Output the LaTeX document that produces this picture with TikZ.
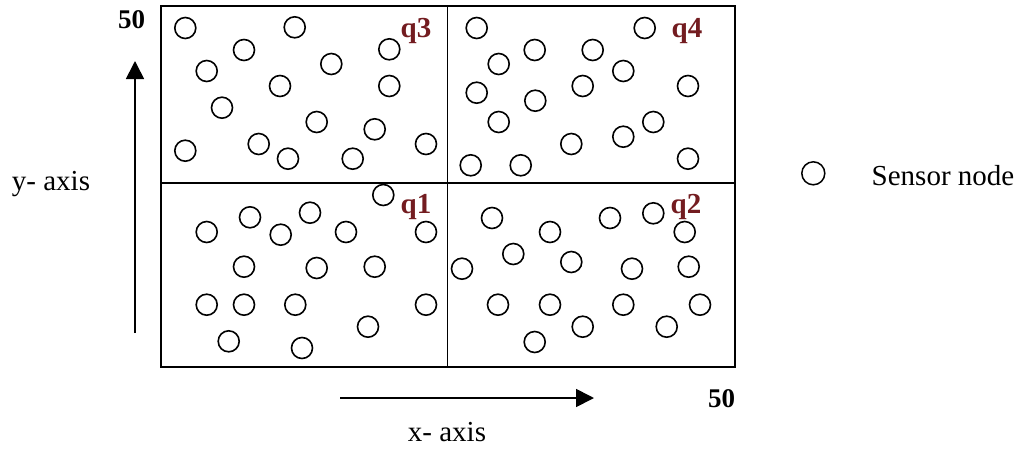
\documentclass[tikz,border=0pt]{standalone}
\usepackage{fontspec}
\setmainfont{Liberation Serif}
\usetikzlibrary{arrows.meta}
\definecolor{qred}{RGB}{115,28,32}
\tikzset{
  sensor/.style={circle, draw=black, line width=1.6pt, minimum size=21pt, inner sep=0pt},
  legendsensor/.style={circle, draw=black, line width=1.5pt, minimum size=23pt, inner sep=0pt},
  frame/.style={draw=black, line width=1.8pt},
  axisarrow/.style={draw=black, line width=1.7pt, -{Triangle[length=18pt,width=18pt]}},
  lbl/.style={inner sep=0pt, anchor=base, font=\fontsize{29}{32}\selectfont},
  boldlbl/.style={lbl, font=\fontsize{27}{30}\selectfont\bfseries},
  qlbl/.style={lbl, text=qred, font=\fontsize{29}{32}\selectfont\bfseries}
}
\begin{document}
\begin{tikzpicture}[x=1pt,y=-1pt]
\useasboundingbox (0,0) rectangle (1026,450);
\fill[white] (0,0) rectangle (1026,450);
% field
\draw[frame] (161,6) rectangle (735,367);
\draw[frame] (447.5,6) -- (447.5,367);
\draw[frame] (161,183) -- (735,183);
% sensors
\foreach \px/\py [count=\i] in {
 185.3/28, 294.7/27.3, 244/50, 389.3/49.3, 206.7/71, 331.3/64, 280/86, 389.3/86,
 222/107.7, 316.7/122, 374.7/129.3, 185.3/150.7, 258.7/144, 288/158.7, 352.7/158.7, 426/144,
 476.7/28, 644.7/28, 534.7/50, 592.7/50, 498.7/64, 623.3/71, 476.7/92.7, 582.7/86,
 688/86, 535.3/100.7, 498.7/122, 653.3/122, 571.3/144, 623.3/136.7, 470.7/165.3, 520.7/165.3, 688/158.7,
 383.3/195, 206.7/232, 250/217.3, 280.7/234.7, 310/212.7, 346/232, 426/232, 244/266.7,
 316.7/268, 374.7/266.7, 206.7/304.7, 244/304.7, 295.3/304.7, 426/304.7, 368/326.7, 228.7/341.3, 302/348,
 492/218, 550/232, 610/218, 653.3/213.3, 684.7/232, 513.3/254, 571.3/262, 462/268.7,
 632/268.7, 688.7/266.7, 498/304.7, 550/304.7, 623.3/304.7, 700/304.7, 582.7/326.7, 666.7/326.7, 534.7/342}
  \node[sensor] (s\i) at (\px,\py) {};
% quadrant labels
\node[qlbl] (q3) at (416,37) {q3};
\node[qlbl] (q4) at (687,37) {q4};
\node[qlbl] (q1) at (416,213) {q1};
\node[qlbl] (q2) at (686,213) {q2};
% axis values
\node[boldlbl] (ymax) at (131.5,28) {50};
\node[boldlbl] (xmax) at (721.5,407) {50};
% axes
\coordinate (ybot) at (135,333);
\coordinate (ytop) at (135,61);
\draw[axisarrow] (ybot) -- (ytop);
\coordinate (xleft) at (340,398);
\coordinate (xright) at (594,398);
\draw[axisarrow] (xleft) -- (xright);
\node[lbl] (ylabel) at (51,190) {y- axis};
\node[lbl] (xlabel) at (447,441) {x- axis};
% legend
\node[legendsensor] (legend) at (813.3,173.3) {};
\node[lbl] (legendtext) at (943,185) {Sensor node};
\end{tikzpicture}
\end{document}
